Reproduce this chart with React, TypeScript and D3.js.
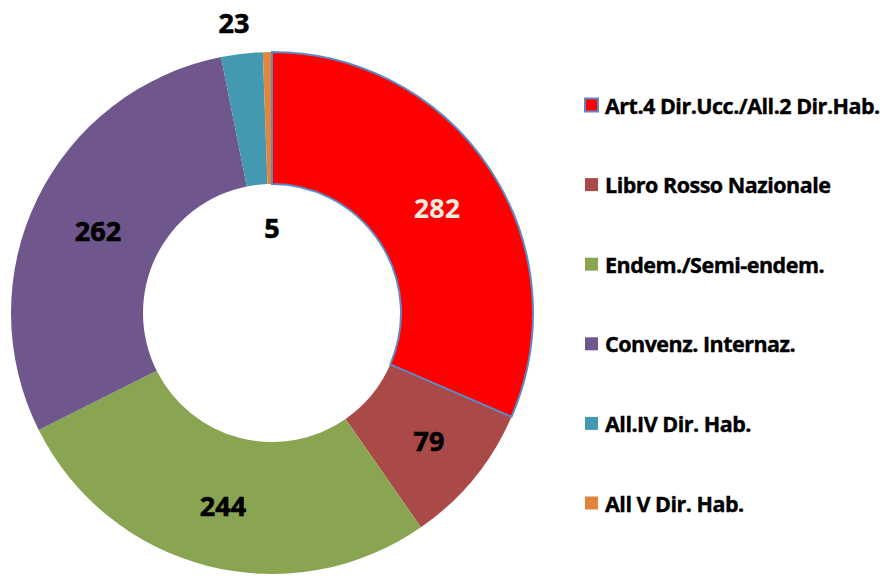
import React from "react";
import * as d3 from "d3";

const categories = [
  "Art.4 Dir.Ucc./All.2 Dir.Hab.",
  "Libro Rosso Nazionale",
  "Endem./Semi-endem.",
  "Convenz. Internaz.",
  "All.IV Dir. Hab.",
  "All V Dir. Hab.",
];
const values = [282, 79, 244, 262, 23, 5];
const colors = ["#FF0000", "#AA4A48", "#8AA551", "#6F578D", "#4299B0", "#E0853D"];

const W = 883;
const H = 576;
const cx = 272;
const cy = 313;
const outerR = 261;
const innerR = 129;

// label placements (pixel positions)
const labelPos: [number, number][] = [
  [437, 207],
  [429, 440],
  [223, 505],
  [98, 230],
  [234, 22],
  [272, 227],
];
const labelColors = ["#EEECE1", "#000", "#000", "#000", "#000", "#000"];

export default function App() {
  const pie = d3
    .pie<number>()
    .sort(null)
    .value((d) => d)
    .startAngle(0)
    .endAngle(2 * Math.PI);
  const arcs = pie(values);
  const arcGen = d3
    .arc<d3.PieArcDatum<number>>()
    .innerRadius(innerR)
    .outerRadius(outerR);

  const legendY = d3
    .scalePoint<number>()
    .domain(d3.range(categories.length))
    .range([105, 503]);

  return (
    <svg
      width={W}
      height={H}
      style={{ position: "absolute", left: 0, top: 0, background: "#fff" }}
      fontFamily="'Open Sans', sans-serif"
    >
      <g transform={`translate(${cx},${cy})`}>
        {arcs.map((a, i) =>
          i === 0 ? null : (
            <path key={i} d={arcGen(a) || ""} fill={colors[i]} />
          )
        )}
        <path
          d={arcGen(arcs[0]) || ""}
          fill={colors[0]}
          stroke="#5A8AC6"
          strokeWidth={2}
        />
      </g>
      {values.map((v, i) => (
        <text
          key={i}
          x={labelPos[i][0]}
          y={labelPos[i][1]}
          textAnchor="middle"
          dominantBaseline="central"
          fontWeight="bold"
          fontSize={27}
          fill={labelColors[i]}
          stroke={labelColors[i] === "#000" ? "#000" : "none"}
          strokeWidth={0.6}
        >
          {v}
        </text>
      ))}
      {categories.map((c, i) => (
        <g key={i} transform={`translate(585,${legendY(i)})`}>
          <rect
            x={0}
            y={-6.5}
            width={13}
            height={13}
            fill={colors[i]}
            stroke={i === 0 ? "#5A8AC6" : "none"}
            strokeWidth={2}
          />
          <text
            x={20}
            y={0}
            dominantBaseline="central"
            fontWeight="bold"
            fontSize={21.5}
            letterSpacing={-0.5}
            fill="#000"
            stroke="#000"
            strokeWidth={0.4}
          >
            {c}
          </text>
        </g>
      ))}
    </svg>
  );
}
